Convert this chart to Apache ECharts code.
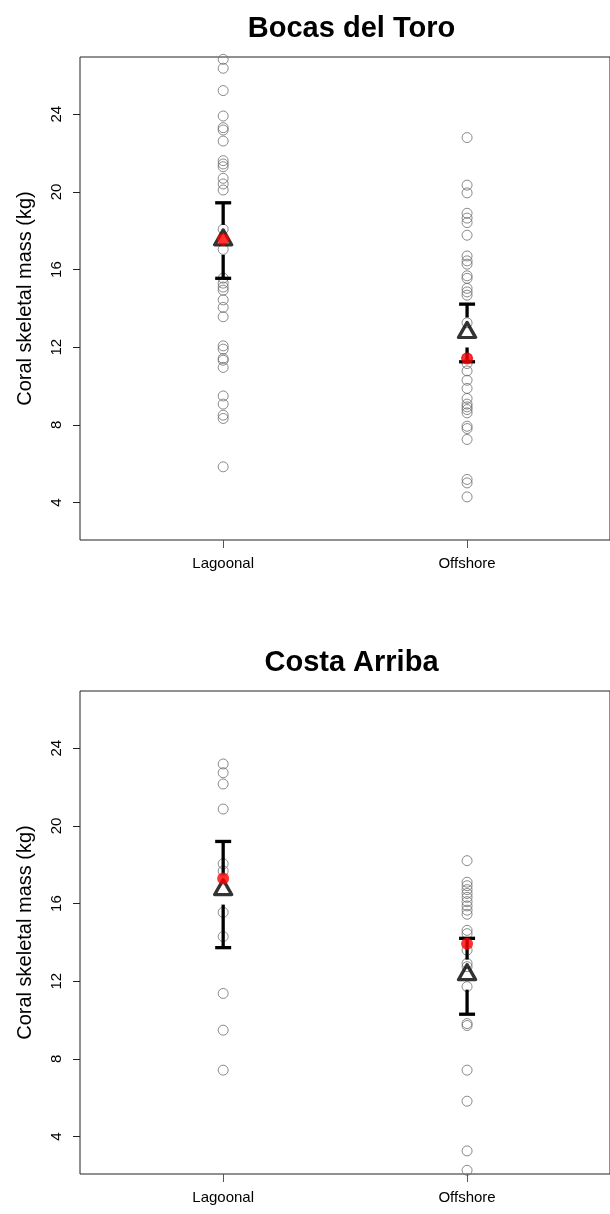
<!DOCTYPE html>
<html>
<head>
<meta charset="utf-8">
<title>Coral skeletal mass</title>
<script src="https://cdn.jsdelivr.net/npm/echarts@6/dist/echarts.min.js"></script>
<style>
  html, body { margin: 0; padding: 0; background: #fff; }
  #chart { width: 610px; height: 1214px; }
</style>
</head>
<body>
<div id="chart"></div>
<script>
// Site groups on the x axis (positions 1 and 2)
const categories = ['Lagoonal', 'Offshore'];
const yTicks = [4, 8, 12, 16, 20, 24];

// Individual colonies, Bocas del Toro (kg)
const bocasLagoonal = [26.83, 26.37, 25.22, 23.91, 23.31, 23.19, 22.62, 21.61, 21.44, 21.30,
  20.70, 20.41, 20.10, 18.08, 17.04, 15.56, 15.30, 15.10, 14.94, 14.44, 14.05, 13.57,
  12.07, 11.90, 11.42, 11.33, 10.96, 9.49, 9.07, 8.50, 8.33, 5.84];
const bocasOffshore = [22.80, 20.35, 19.95, 18.90, 18.65, 18.42, 17.77, 16.70, 16.45, 16.28,
  15.68, 15.55, 15.03, 14.85, 14.68, 13.26, 11.45, 11.16, 10.78, 10.30, 9.88, 9.36, 9.07,
  8.93, 8.79, 8.62, 7.93, 7.81, 7.25, 5.19, 5.01, 4.29];

// Individual colonies, Costa Arriba (kg)
const costaLagoonal = [23.19, 22.74, 22.16, 20.87, 18.05, 17.68, 15.55, 14.30, 11.37, 9.48, 7.42];
const costaOffshore = [18.21, 17.10, 16.92, 16.72, 16.52, 16.32, 16.10, 15.88, 15.66, 15.45,
  14.62, 14.45, 13.60, 12.92, 12.75, 11.72, 9.82, 9.72, 7.42, 5.82, 3.26, 2.26];

// Group means with confidence limits, and model estimates
const bocasMean = [17.53, 12.76];
const bocasLower = [15.55, 11.25];
const bocasUpper = [19.44, 14.22];
const bocasEstimate = [17.56, 11.42];

const costaMean = [16.72, 12.34];
const costaLower = [13.73, 10.30];
const costaUpper = [19.20, 14.21];
const costaEstimate = [17.29, 13.93];

const xMin = 0.413, xMax = 2.586;
const yMin = 2.07, yMax = 26.95;

const chart = echarts.init(document.getElementById('chart'), null, { renderer: 'canvas' });

const FONT = 'Liberation Sans, Arial, Helvetica, sans-serif';
const AXIS_COLOR = '#222';

function colonyPoints(lagoonal, offshore) {
  return lagoonal.map(v => [1, v]).concat(offshore.map(v => [2, v]));
}
function meanPoints(means) {
  return means.map((v, i) => [i + 1, v]);
}
function ciRows(means, lower, upper) {
  return means.map((m, i) => [i + 1, m, lower[i], upper[i]]);
}

// Error bar with a gap around the mean marker and flat caps
function renderCI(params, api) {
  const x = api.value(0);
  const pm = api.coord([x, api.value(1)]);
  const plo = api.coord([x, api.value(2)]);
  const phi = api.coord([x, api.value(3)]);
  const gap = 15, cap = 8;
  const style = { stroke: '#000', lineWidth: 3.3, lineCap: 'butt' };
  const children = [];
  if (pm[1] - gap > phi[1]) {
    children.push({ type: 'line', shape: { x1: phi[0], y1: phi[1], x2: pm[0], y2: pm[1] - gap }, style });
  }
  if (pm[1] + gap < plo[1]) {
    children.push({ type: 'line', shape: { x1: pm[0], y1: pm[1] + gap, x2: plo[0], y2: plo[1] }, style });
  }
  children.push({ type: 'line', shape: { x1: phi[0] - cap, y1: phi[1], x2: phi[0] + cap, y2: phi[1] }, style });
  children.push({ type: 'line', shape: { x1: plo[0] - cap, y1: plo[1], x2: plo[0] + cap, y2: plo[1] }, style });
  return { type: 'group', children };
}

function xAxisFor(gridIndex) {
  return {
    type: 'value', gridIndex, min: xMin, max: xMax,
    axisLine: { show: false },
    axisTick: { show: true, customValues: [1, 2], length: 8, lineStyle: { color: '#555', width: 1 } },
    axisLabel: {
      show: true, customValues: [1, 2], margin: 16,
      formatter: v => categories[Math.round(v) - 1] || '',
      fontFamily: FONT, fontSize: 15, color: '#000'
    },
    splitLine: { show: false }
  };
}
function yAxisFor(gridIndex) {
  return {
    type: 'value', gridIndex, min: yMin, max: yMax,
    name: 'Coral skeletal mass (kg)', nameLocation: 'middle', nameRotate: 90, nameGap: 45,
    nameTextStyle: { fontFamily: FONT, fontSize: 20, color: '#000' },
    axisLine: { show: false },
    axisTick: { show: true, customValues: yTicks, length: 7, lineStyle: { color: AXIS_COLOR, width: 1 } },
    axisLabel: {
      show: true, customValues: yTicks, rotate: 90, margin: 16,
      fontFamily: FONT, fontSize: 15, color: '#000'
    },
    splitLine: { show: false }
  };
}

function panelSeries(idx, lagoonal, offshore, means, lower, upper, estimate) {
  return [
    {
      type: 'scatter', xAxisIndex: idx, yAxisIndex: idx, z: 2,
      data: colonyPoints(lagoonal, offshore),
      symbol: 'circle', symbolSize: 10,
      itemStyle: { color: 'rgba(0,0,0,0)', borderColor: '#6e6e6e', borderWidth: 1 },
      silent: true
    },
    {
      type: 'custom', xAxisIndex: idx, yAxisIndex: idx, z: 3,
      data: ciRows(means, lower, upper),
      encode: { x: 0, y: [1, 2, 3] },
      renderItem: renderCI, silent: true
    },
    {
      type: 'scatter', xAxisIndex: idx, yAxisIndex: idx, z: 4,
      data: meanPoints(means),
      symbol: 'triangle', symbolSize: [17, 15], symbolOffset: [0, -2.5],
      itemStyle: { color: 'rgba(0,0,0,0)', borderColor: '#000', borderWidth: 3.3, borderJoin: 'round' },
      silent: true
    },
    {
      type: 'scatter', xAxisIndex: idx, yAxisIndex: idx, z: 5,
      data: meanPoints(estimate),
      symbol: 'circle', symbolSize: 12,
      itemStyle: { color: '#ff0000' },
      silent: true
    }
  ];
}

const option = {
  animation: false,
  backgroundColor: '#fff',
  title: [
    { text: 'Bocas del Toro', left: 346.5, top: 9, textAlign: 'center',
      textStyle: { fontFamily: FONT, fontSize: 29, fontWeight: 'bold', color: '#000' } },
    { text: 'Costa Arriba', left: 346.5, top: 643, textAlign: 'center',
      textStyle: { fontFamily: FONT, fontSize: 29, fontWeight: 'bold', color: '#000' } }
  ],
  grid: [
    { left: 80, top: 57, width: 533, height: 483, show: true, borderColor: AXIS_COLOR, borderWidth: 1, backgroundColor: 'transparent' },
    { left: 80, top: 691, width: 533, height: 483, show: true, borderColor: AXIS_COLOR, borderWidth: 1, backgroundColor: 'transparent' }
  ],
  xAxis: [xAxisFor(0), xAxisFor(1)],
  yAxis: [yAxisFor(0), yAxisFor(1)],
  series: [
    ...panelSeries(0, bocasLagoonal, bocasOffshore, bocasMean, bocasLower, bocasUpper, bocasEstimate),
    ...panelSeries(1, costaLagoonal, costaOffshore, costaMean, costaLower, costaUpper, costaEstimate)
  ]
};

chart.setOption(option);
</script>
</body>
</html>
